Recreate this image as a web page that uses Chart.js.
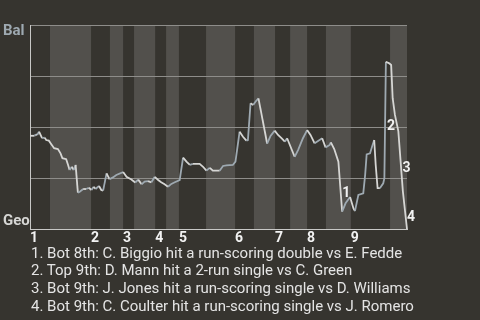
<!DOCTYPE html>
<html><head><meta charset="utf-8">
<script src="https://cdn.jsdelivr.net/npm/chart.js@4/dist/chart.umd.min.js"></script>
<style>
html,body{margin:0;padding:0;background:#36342f;width:480px;height:320px;overflow:hidden}
#wrap{position:relative;width:480px;height:320px}
canvas{position:absolute;left:0;top:0}
#notes{position:absolute;left:31px;top:244.5px;font-family:Roboto,sans-serif;font-size:15px;line-height:17.7px;color:#e4e4e4;white-space:nowrap}
</style></head>
<body><div id="wrap"><canvas id="c" width="480" height="320"></canvas><div id="notes"></div></div>
<script>
const teamTop = 'Bal';
const teamBottom = 'Geo';
// game progress (0-100) and Baltimore win probability (%)
const progress = [0,1.2,1.6,1.9,2.4,2.8,3.2,3.9,4.3,5.0,5.6,6.4,7.4,8.1,8.6,9.6,10.1,10.5,11.1,11.6,12.1,12.7,13.2,14.1,14.9,15.6,16.3,16.9,17.4,18.3,18.9,19.4,20.3,21.1,22.0,22.9,24.7,25.6,26.9,27.9,28.7,29.6,30.4,31.3,32.2,33.1,34.0,34.8,35.7,36.6,37.5,38.4,39.7,40.6,41.5,42.4,43.2,45.0,45.9,46.8,47.7,48.5,50.3,51.2,52.1,53.8,54.5,55.6,56.5,57.4,57.8,58.5,59.2,59.8,60.6,62.9,63.8,64.9,65.8,66.7,67.6,68.2,70.2,71.1,72.4,73.5,74.4,75.5,76.8,77.5,78.4,79.5,79.8,80.7,81.8,82.8,83.7,84.9,85.8,86.2,87.1,88.4,88.9,89.3,90.2,90.6,91.3,91.7,92.2,92.8,93.7,94.0,94.4,95.3,95.8,96.2,96.8,97.7,98.9,100];
const balWinPct = [45.7,45.7,46.4,46.1,47.7,46.1,44.5,44.8,43.6,43.3,41.7,39.6,39.2,37.1,34.7,34.2,31.4,28.9,30.5,28.9,31.4,17.8,18.3,19.6,19.6,20.2,19.1,20.7,19.6,21.1,19.1,18.8,27.3,24.4,25.3,26.5,27.9,25.6,24.3,22.8,24.2,21.9,23.2,23.5,22.9,25.6,24.0,22.9,21.9,20.7,22.1,22.9,24.0,35.0,33.0,31.4,31.9,31.9,30.5,28.6,30.0,28.6,28.6,30.9,31.2,31.4,33.0,47.7,45.2,43.3,43.6,61.6,60.8,62.4,64.0,41.9,45.6,48.2,46.1,44.5,42.8,44.5,35.4,38.7,44.5,48.5,46.1,42.0,43.6,44.5,40.0,41.2,42.5,39.2,33.0,8.5,12.6,15.7,10.1,8.8,16.7,17.5,26.5,36.6,37.1,39.6,43.6,31.4,20.0,20.0,22.4,24.9,82.0,81.2,80.4,64.1,55.9,48.0,18.6,0];
// start of each half inning (top 1, bot 1, top 2, ...)
const halfInningStarts = [0,5.3,16.2,21.2,24.7,27.6,33.2,36.1,39.5,46.7,54.4,59.4,65.0,69.0,73.5,78.5,85.1,95.5];
const gameEnd = 100;
const inningLabels = ['1','2','3','4','5','6','7','8','9'];
const eventX = [82.8, 94.4, 98.9, 100];
const eventLabels = ['1','2','3','4'];
const eventNotes = [
  '1. Bot 8th: C. Biggio hit a run-scoring double vs E. Fedde',
  '2. Top 9th: D. Mann hit a 2-run single vs C. Green',
  '3. Bot 9th: J. Jones hit a run-scoring single vs D. Williams',
  '4. Bot 9th: C. Coulter hit a run-scoring single vs J. Romero'
];

const UP = '#9ea9b1', DOWN = '#d6d6d4';
const BAND = '#52504c';
document.getElementById('notes').innerHTML = eventNotes.map(t => '<div>' + t + '</div>').join('');

const inningStarts = halfInningStarts.filter((v, i) => i % 2 === 0);

const bandPlugin = {
  id: 'bands',
  beforeDraw(chart) {
    const {ctx, chartArea: a, scales: {x}} = chart;
    ctx.save();
    ctx.fillStyle = BAND;
    halfInningStarts.forEach((s, i) => {
      if (i % 2 === 1) {
        const e = i + 1 < halfInningStarts.length ? halfInningStarts[i + 1] : gameEnd;
        const x0 = x.getPixelForValue(s), x1 = x.getPixelForValue(e);
        ctx.fillRect(x0, a.top, x1 - x0, a.bottom - a.top);
      }
    });
    ctx.restore();
  }
};

const labelPlugin = {
  id: 'labels',
  afterDatasetsDraw(chart) {
    const {ctx, chartArea: a, scales: {x, y}} = chart;
    ctx.save();
    ctx.font = 'bold 15px Roboto';
    ctx.textAlign = 'left';
    ctx.textBaseline = 'middle';
    ctx.fillStyle = UP;
    ctx.fillText(teamTop, 3, a.top + 6);
    ctx.fillStyle = DOWN;
    ctx.fillText(teamBottom, 3, a.bottom - 8);
    ctx.font = 'bold 14px Roboto';
    ctx.textAlign = 'center';
    ctx.fillStyle = '#f2f2f2';
    eventX.forEach((ex, j) => {
      const k = progress.indexOf(ex);
      const px = (x.getPixelForValue(progress[k - 1]) + x.getPixelForValue(progress[k])) / 2;
      const py = (y.getPixelForValue(balWinPct[k - 1]) + y.getPixelForValue(balWinPct[k])) / 2;
      ctx.fillText(eventLabels[j], px + 6, py + 7);
    });
    ctx.restore();
  }
};

new Chart(document.getElementById('c'), {
  type: 'line',
  data: {
    datasets: [{
      data: progress.map((v, i) => ({x: v, y: balWinPct[i]})),
      borderWidth: 1.8,
      pointRadius: 0,
      tension: 0,
      borderColor: DOWN,
      clip: false,
      segment: {borderColor: c => c.p1.parsed.y > c.p0.parsed.y ? UP : DOWN}
    }]
  },
  options: {
    responsive: false,
    animation: false,
    layout: {padding: {left: 30, right: 73, top: 25, bottom: 71}},
    plugins: {legend: {display: false}, tooltip: {enabled: false}},
    scales: {
      x: {
        type: 'linear', min: 0, max: gameEnd,
        grid: {display: false, drawTicks: false},
        border: {display: true, color: '#c8c8c6', width: 1},
        afterBuildTicks: s => { s.ticks = inningStarts.map(v => ({value: v})); },
        afterFit: s => { s.height = 20; },
        ticks: {
          align: 'start', padding: 1, color: '#f2f2f2', autoSkip: false, maxRotation: 0,
          font: {family: 'Roboto', weight: 'bold', size: 14},
          callback: (v, i) => inningLabels[i]
        }
      },
      y: {
        min: 0, max: 100,
        ticks: {display: false, stepSize: 25},
        grid: {color: c => c.tick.value === 0 ? 'rgba(0,0,0,0)' : '#8e8d8a', drawTicks: false},
        border: {display: true, color: '#c8c8c6', width: 1},
        afterFit: s => { s.width = 0; }
      }
    }
  },
  plugins: [bandPlugin, labelPlugin]
});
</script>
</body></html>
